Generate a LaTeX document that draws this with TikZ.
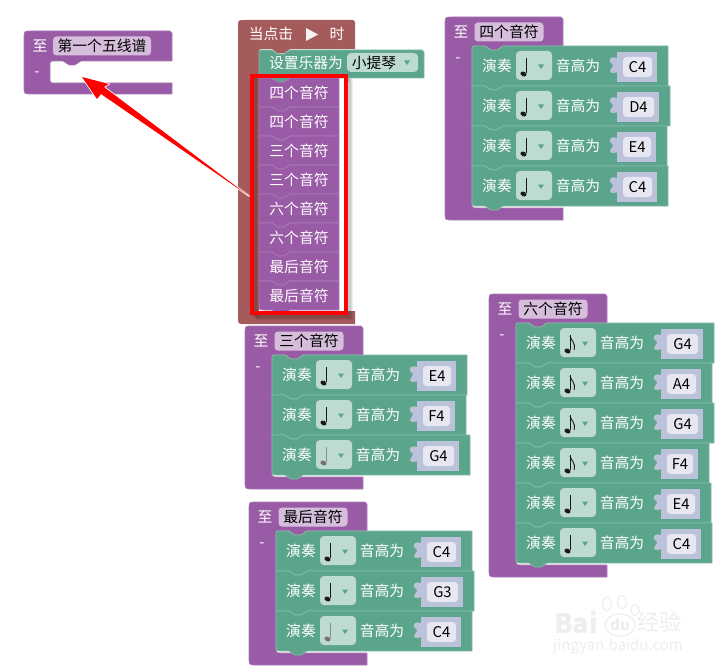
\documentclass[tikz,border=0pt]{standalone}
\usepackage{fontspec}
\usetikzlibrary{calc}
\setmainfont{Noto Sans CJK SC}
\definecolor{procP}{HTML}{995BA5}
\definecolor{procL}{HTML}{D6BDDB}
\definecolor{procE}{HTML}{AD7BB7}
\definecolor{musG}{HTML}{5BA58C}
\definecolor{musL}{HTML}{BDDBD1}
\definecolor{musE}{HTML}{85BBA9}
\definecolor{hatR}{HTML}{A55B5B}
\definecolor{sockB}{HTML}{BDC2DB}
\definecolor{sockI}{HTML}{E6E7F1}
\definecolor{wm}{HTML}{EEEEEE}
\tikzset{
  wtext/.style={text=white,font=\fontsize{14.8}{16}\selectfont,inner sep=0pt},
  btext/.style={text=black,font=\fontsize{14.8}{16}\selectfont,inner sep=0pt},
  pfield/.style={btext,fill=procL,rounded corners=3.5pt,minimum height=19pt,anchor=center},
  ddfield/.style={fill=musL,rounded corners=4pt,minimum width=36pt,minimum height=29pt,inner sep=0pt},
  ifield/.style={fill=sockI,rounded corners=3.5pt,minimum height=20pt,inner sep=0pt,font=\fontsize{14.8}{16}\selectfont},
  mblock/.style={fill=musG,draw=musE,line width=.8pt,line join=round},
  pblock/.style={fill=procP,draw=procE,line width=.6pt,line join=round},
}
% note glyphs (origin: block corner)
\newcommand{\noteQ}{\draw[line width=.9pt,black!90] (54,12)--(54,27);\fill[black!90,rotate around={-25:(51.5,28)}] (51.5,28) ellipse (3.2 and 2.3);}
\newcommand{\noteH}{\draw[line width=.9pt,black!45] (54,12)--(54,27);\fill[black!55,rotate around={-25:(51.5,28)}] (51.5,28) ellipse (3.2 and 2.3);}
\newcommand{\noteE}{\noteQ\draw[line width=.9pt,black!90] (54,13) .. controls (55,18) and (60,19) .. (58,27);}
% play block: name,x,y,width,note,pitch,top radius,bottom radius
\newcommand{\playb}[8]{%
 \begin{scope}[shift={(#2,#3)}]
 \draw[mblock] (#7,0)--(13,0)--(19,4)--(25,4)--(31,0)--(#4,0)--(#4,40)--(31,40)--(25,44)--(19,44)--(13,40)--(#8,40) .. controls (0,40) .. (0,{40-#8})--(0,#7) .. controls (0,0) .. (#7,0)--cycle;
 \node[wtext] (#1-a) at (25,20) {演奏};
 \node[ddfield] (#1-d) at (62,19.5) {};
 #5
 \fill[musG] (66,18.5)--(72,18.5)--(69,23)--cycle;
 \node[wtext] (#1-b) at (106,20) {音高为};
 \fill[sockB] (145,6) rectangle ({#4-11},36);
 \fill[sockB] (145,12) .. controls (139,10) and (137,13) .. (138,16) .. controls (140,18) and (141,18) .. (141,20) .. controls (141,22) and (138,22) .. (138,25) .. controls (139,28) and (142,27) .. (145,26)--cycle;
 \node[ifield,minimum width={(#4-167)*1pt}] (#1-p) at ({(135+#4)/2},21) {#6};
 \end{scope}}
% function block: x,top,width,barY,leftBody,innerBottom,bottom
\newcommand{\funcb}[7]{%
 \draw[pblock] ({#1+7},#2)--({#1+#3-2},#2)--({#1+#3},{#2+2})--({#1+#3},#4)--({#5+31},#4)--({#5+25},{#4+4})--({#5+19},{#4+4})--({#5+13},#4)--({#5+5},#4) .. controls (#5,#4) .. (#5,{#4+5})--(#5,{#6-6}) .. controls (#5,#6) .. ({#5+6},#6)--({#1+#3},#6)--({#1+#3},#7)--({#1+7},#7) .. controls (#1,#7) .. (#1,{#7-7})--(#1,{#2+7}) .. controls (#1,#2) .. ({#1+7},#2)--cycle;}
% head labels: name,x,top,label,field width,field centre
\newcommand{\funct}[6]{%
 \node[wtext] (#1-z) at ({#2+16},{#3+15}) {至};
 \node[pfield,minimum width=#5pt] (#1-f) at (#6,{#3+15}) {#4};
 \node[wtext] (#1-m) at ({#2+13},{#3+43}) {-};}
% call block: name,y,text,bottom radius
\newcommand{\callb}[4]{%
 \begin{scope}[shift={(259,#2)}]
 \draw[pblock] (0,0)--(13,0)--(19,4)--(25,4)--(31,0)--(80,0)--(80,29)--(31,29)--(25,33)--(19,33)--(13,29)--(#4,29) .. controls (0,29) .. (0,{29-#4})--cycle;
 \node[wtext] (#1) at (40,15) {#3};
 \end{scope}}
\begin{document}
\begin{tikzpicture}[x=1pt,y=-1pt]
\useasboundingbox (0,0) rectangle (722,671);
\fill[white] (0,0) rectangle (722,671);

% first staff
\funcb{24}{31}{148}{61}{50}{83}{94}
\funct{first}{24}{31}{第一个五线谱}{98}{102}

% four notes
\funcb{445}{17}{118}{46}{472}{208}{220}
\funct{four}{445}{17}{四个音符}{69}{509}
\playb{f1}{472}{46}{196}{\noteQ}{C4}{4}{0}
\playb{f2}{472}{86}{198}{\noteQ}{D4}{0}{0}
\playb{f3}{472}{126}{195}{\noteQ}{E4}{0}{0}
\playb{f4}{472}{166}{196}{\noteQ}{C4}{0}{5}

% three notes
\funcb{245}{326}{118}{355}{272}{477}{489}
\funct{three}{245}{326}{三个音符}{69}{309}
\playb{t1}{272}{355}{195}{\noteQ}{E4}{4}{0}
\playb{t2}{272}{395}{194}{\noteQ}{F4}{0}{0}
\playb{t3}{272}{435}{198}{\noteH}{G4}{0}{5}

% last notes
\funcb{249}{502}{118}{531}{276}{653}{665}
\funct{last}{249}{502}{最后音符}{69}{313}
\playb{l1}{276}{531}{196}{\noteQ}{C4}{4}{0}
\playb{l2}{276}{571}{198}{\noteQ}{G3}{0}{0}
\playb{l3}{276}{611}{196}{\noteH}{C4}{0}{5}

% six notes
\funcb{489}{294}{118}{323}{516}{565}{577}
\funct{six}{489}{294}{六个音符}{69}{553}
\playb{s1}{516}{323}{198}{\noteE}{G4}{4}{0}
\playb{s2}{516}{363}{196}{\noteE}{A4}{0}{0}
\playb{s3}{516}{403}{198}{\noteE}{G4}{0}{0}
\playb{s4}{516}{443}{193}{\noteE}{F4}{0}{0}
\playb{s5}{516}{483}{195}{\noteQ}{E4}{0}{0}
\playb{s6}{516}{523}{196}{\noteQ}{C4}{0}{5}

% hat block
\fill[hatR] (245,20)--(353,20)--(355,22)--(355,49)--(290,49)--(284,53.5)--(278,53.5)--(272,49)--(264,49) .. controls (259,49) .. (259,54)--(259,305) .. controls (259,311) .. (265,311)--(355,311)--(355,324)--(245,324) .. controls (238,324) .. (238,317)--(238,27) .. controls (238,20) .. (245,20)--cycle;
\node[wtext] (hat1) at (271,34) {当点击};
\fill[white!92!hatR] (306,28)--(318,34.5)--(306,41)--cycle;
\node[wtext] (hat2) at (337,34) {时};

% soft shadow of the red frame, kept out of the frame's inside
\foreach \o in {1,2,3,4,5}{\draw[black,opacity=.07,line width=3pt] ({252+\o},{76+\o}) rectangle ({346+\o},{313+\o});}
\fill[white] (259,78) rectangle (346,311);

% set instrument
\draw[mblock] (263,50)--(272,50)--(278,54)--(284,54)--(290,50)--(422,50)--(424,52)--(424,78)--(290,78)--(284,82)--(278,82)--(272,78)--(259,78)--(259,54) .. controls (259,50) .. (263,50)--cycle;
\node[wtext] (setlbl) at (306,63) {设置乐器为};
\node[ddfield,minimum width=71pt,minimum height=19pt,anchor=center] (setdd) at (382.5,62.5) {};
\node[btext] (setval) at (374,62.5) {小提琴};
\fill[musG] (404,60.5)--(410,60.5)--(407,65)--cycle;

\callb{c1}{78}{四个音符}{0}
\callb{c2}{107}{四个音符}{0}
\callb{c3}{136}{三个音符}{0}
\callb{c4}{165}{三个音符}{0}
\callb{c5}{194}{六个音符}{0}
\callb{c6}{223}{六个音符}{0}
\callb{c7}{252}{最后音符}{0}
\callb{c8}{281}{最后音符}{6}

% red frame
\coordinate (frameA) at (252,76);
\coordinate (frameB) at (346,313);
\draw[red,line width=4pt] (frameA) rectangle (frameB);

% arrow
\coordinate (arrowtail) at (249,196);
\coordinate (arrowtip) at (82,77);
\newcommand{\arrowshape}{(arrowtip)--($(arrowtip)+(15,22)$)--($(arrowtip)+(19,17)$)--(arrowtail)--($(arrowtip)+(22,10)$)--($(arrowtip)+(27,7)$)--cycle}
\foreach \o in {1,2,3,4}{\fill[black,opacity=.09,shift={(\o*.8,\o)}] \arrowshape;}
\draw[white,line width=1.6pt,line join=round,fill=red] \arrowshape;
\fill[red] \arrowshape;

% watermark
\node[text=wm,font=\bfseries\fontsize{27}{28}\selectfont,inner sep=0pt] (wmbai) at (576,622) {Bai};
\node[text=wm,font=\fontsize{22}{23}\selectfont,inner sep=0pt] (wmjy) at (659,622) {经验};
\node[text=wm,font=\fontsize{15}{16}\selectfont,inner sep=0pt] (wmurl) at (618,646) {jingyan.baidu.com};
\begin{scope}[draw=wm,line width=1.2pt]
\draw (607,604) ellipse (4.5 and 6.5);
\draw (622,602) ellipse (4.5 and 6.5);
\draw (635,610) ellipse (4 and 5.5);
\draw (620,625) ellipse (15 and 11);
\end{scope}
\node[text=wm,font=\bfseries\fontsize{15}{16}\selectfont,inner sep=0pt] (wmdu) at (620,625) {du};
\end{tikzpicture}
\end{document}
